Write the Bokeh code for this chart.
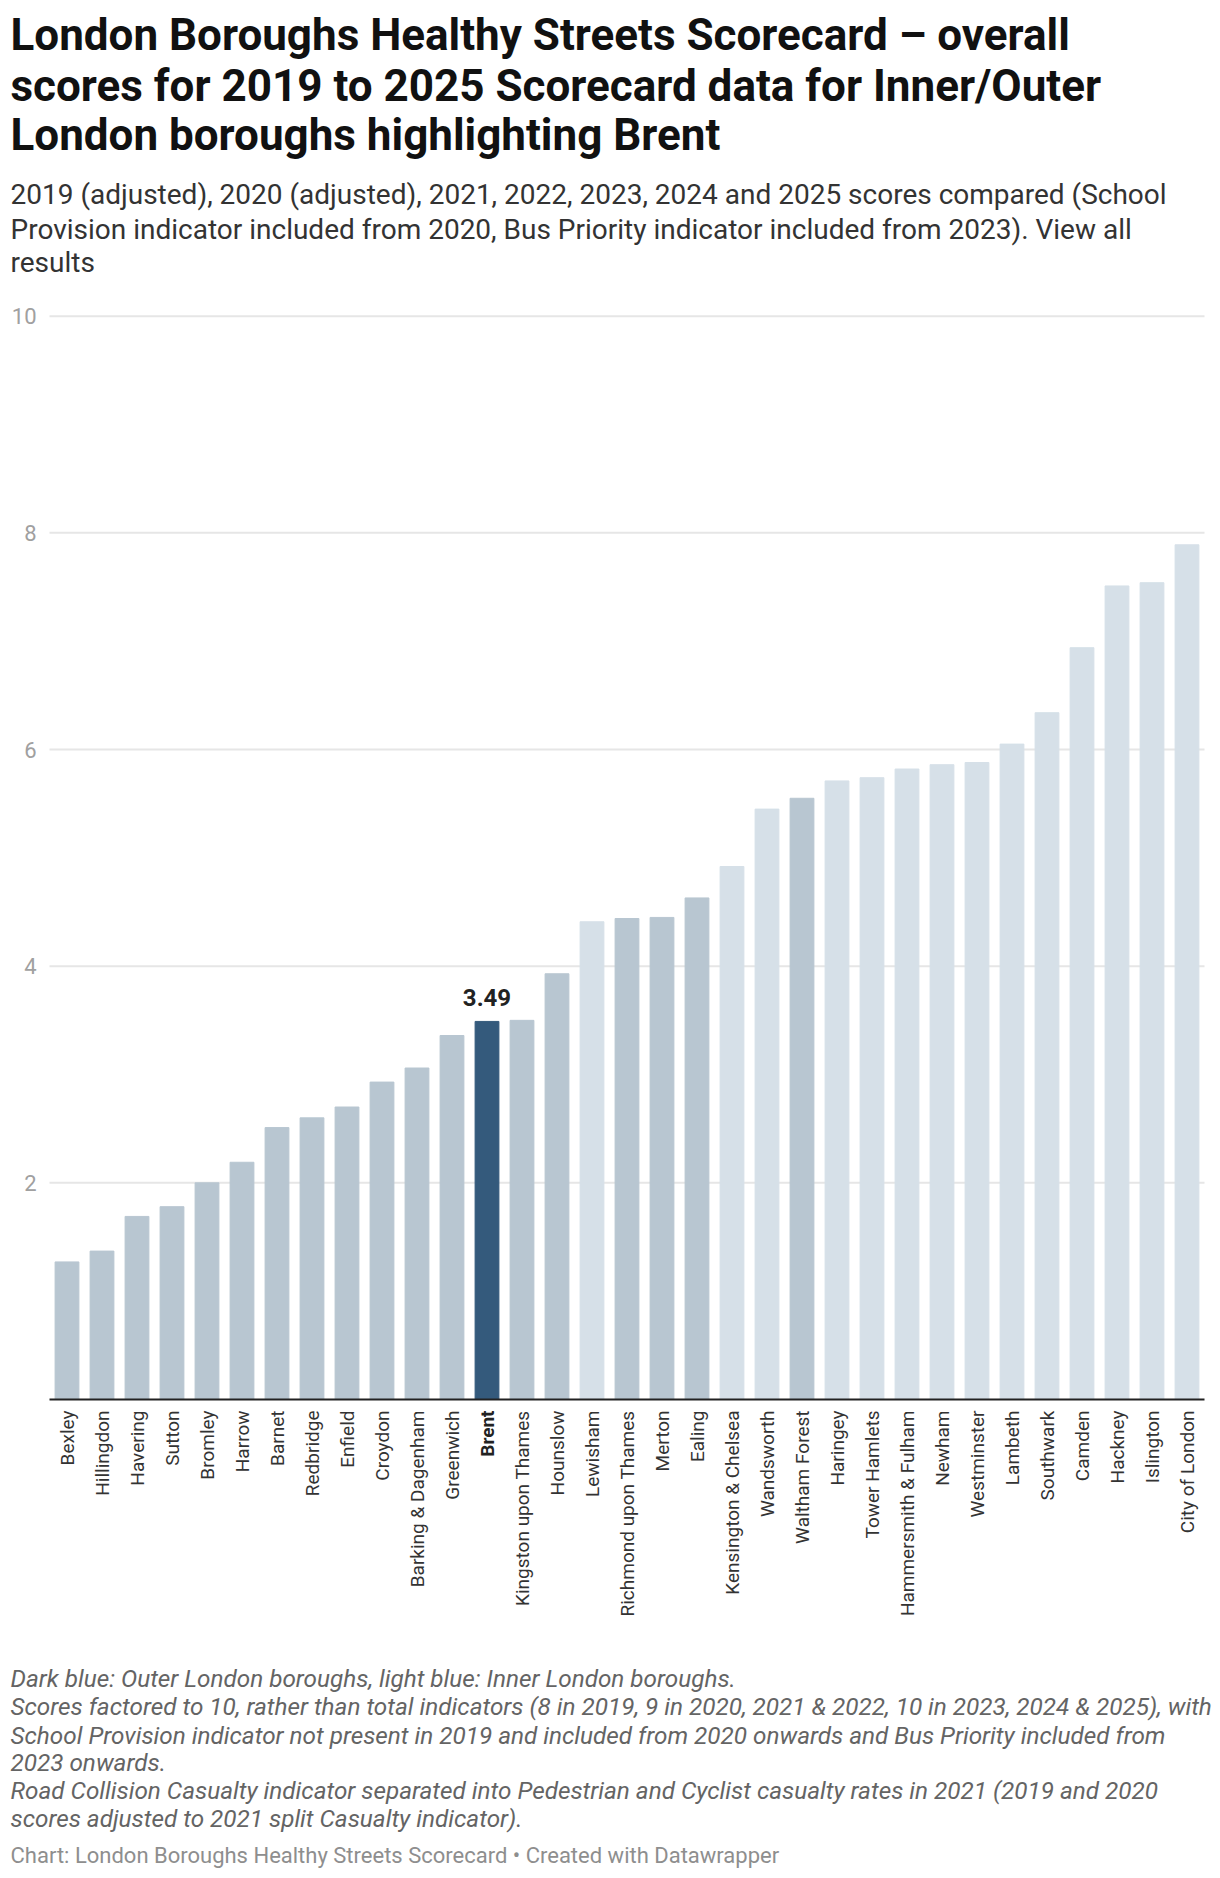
import math
from bokeh.plotting import figure
from bokeh.models import Range1d, Label, ColumnDataSource
from bokeh.core.properties import value
from bokeh.embed import file_html
from bokeh.resources import INLINE

# ---------------- data ----------------
boroughs = [
    "Bexley", "Hillingdon", "Havering", "Sutton", "Bromley", "Harrow", "Barnet",
    "Redbridge", "Enfield", "Croydon", "Barking & Dagenham", "Greenwich", "Brent",
    "Kingston upon Thames", "Hounslow", "Lewisham", "Richmond upon Thames", "Merton",
    "Ealing", "Kensington & Chelsea", "Wandsworth", "Waltham Forest", "Haringey",
    "Tower Hamlets", "Hammersmith & Fulham", "Newham", "Westminster", "Lambeth",
    "Southwark", "Camden", "Hackney", "Islington", "City of London",
]
scores = [
    1.27, 1.37, 1.69, 1.78, 2.00, 2.19, 2.51,
    2.60, 2.70, 2.93, 3.06, 3.36, 3.49,
    3.50, 3.93, 4.41, 4.44, 4.45,
    4.63, 4.92, 5.45, 5.55, 5.71,
    5.74, 5.82, 5.86, 5.88, 6.05,
    6.34, 6.94, 7.51, 7.54, 7.89,
]
groups = [
    "Outer", "Outer", "Outer", "Outer", "Outer", "Outer", "Outer",
    "Outer", "Outer", "Outer", "Outer", "Outer", "Outer",
    "Outer", "Outer", "Inner", "Outer", "Outer",
    "Outer", "Inner", "Inner", "Outer", "Inner",
    "Inner", "Inner", "Inner", "Inner", "Inner",
    "Inner", "Inner", "Inner", "Inner", "Inner",
]
highlight = "Brent"
y_ticks = [2, 4, 6, 8, 10]
y_tick_labels = ["2", "4", "6", "8", "10"]

title_lines = [
    "London Boroughs Healthy Streets Scorecard \u2013 overall",
    "scores for 2019 to 2025 Scorecard data for Inner/Outer",
    "London boroughs highlighting Brent",
]
subtitle_lines = [
    "2019 (adjusted), 2020 (adjusted), 2021, 2022, 2023, 2024 and 2025 scores compared (School",
    "Provision indicator included from 2020, Bus Priority indicator included from 2023). View all",
    "results",
]
note_lines = [
    "Dark blue: Outer London boroughs, light blue: Inner London boroughs.",
    "Scores factored to 10, rather than total indicators (8 in 2019, 9 in 2020, 2021 & 2022, 10 in 2023, 2024 & 2025), with",
    "School Provision indicator not present in 2019 and included from 2020 onwards and Bus Priority included from",
    "2023 onwards.",
    "Road Collision Casualty indicator separated into Pedestrian and Cyclist casualty rates in 2021 (2019 and 2020",
    "scores adjusted to 2021 split Casualty indicator).",
]
footer_line = "Chart: London Boroughs Healthy Streets Scorecard \u2022 Created with Datawrapper"

# ---------------- styling / layout ----------------
FONT = "Roboto"
COL_OUTER = "#b8c6d1"
COL_INNER = "#d6e0e8"
COL_HL = "#345a7c"

W, H = 1212, 1874
PLOT_LEFT = 49          # pixel column where the first category band starts
BAND = 35               # pixels per category
ZERO_PX = 1399          # pixel row of value 0
PPU = 108.33            # pixels per unit of score

n = len(boroughs)
idx = list(range(n))
x_start = -0.5 - PLOT_LEFT / BAND
x_end = x_start + W / BAND
y_start = (ZERO_PX - H) / PPU
y_end = ZERO_PX / PPU

colors = [COL_HL if b == highlight else (COL_OUTER if g == "Outer" else COL_INNER)
          for b, g in zip(boroughs, groups)]
src = ColumnDataSource(dict(x=idx, borough=boroughs, score=scores, color=colors))

p = figure(
    width=W, height=H,
    x_range=Range1d(x_start, x_end), y_range=Range1d(y_start, y_end),
    x_axis_location=None, y_axis_location=None,
    output_backend="svg", toolbar_location=None, min_border=0,
)
p.title.visible = False
p.outline_line_color = None
p.background_fill_color = "white"
p.border_fill_color = "white"
p.grid.visible = False

# gridlines across the category extent
p.segment(x0=[-0.5] * len(y_ticks), x1=[n - 0.5] * len(y_ticks), y0=y_ticks, y1=y_ticks,
          line_color="#e6e6e6", line_width=2)

# y tick labels
p.text(x=[-0.5] * len(y_ticks), y=y_ticks, text=y_tick_labels, x_offset=-13,
       text_align="right", text_baseline="middle",
       text_font=value(FONT), text_font_size="22px", text_color="#a0a0a0")

# bars
p.vbar(x="x", top="score", width=0.68, color="color", source=src)

# baseline
p.segment(x0=[-0.5], x1=[n - 0.5], y0=[0], y1=[0], line_color="#222222", line_width=2)

# category labels (vertical)
norm_i = [i for i, b in enumerate(boroughs) if b != highlight]
hl_i = boroughs.index(highlight)
p.text(x=norm_i, y=[0] * len(norm_i), text=[boroughs[i] for i in norm_i],
       angle=math.pi / 2, text_align="right", text_baseline="middle", y_offset=11,
       text_font=value(FONT), text_font_size="19px", text_color="#333333")
p.text(x=[hl_i], y=[0], text=[highlight], angle=math.pi / 2,
       text_align="right", text_baseline="middle", y_offset=11,
       text_font=value(FONT), text_font_size="19px", text_font_style="bold",
       text_color="#222222")

# value label of highlighted bar
hl_score = scores[hl_i]
p.text(x=[hl_i], y=[hl_score], text=[f"{hl_score:.2f}"], text_align="center",
       text_baseline="alphabetic", y_offset=-24,
       text_font=value(FONT), text_font_size="24px", text_font_style="bold",
       text_color="#222222")

# header / footer texts (screen units; the frame covers the whole canvas)
def add_line(txt, x, row, size, style="normal", color="#222222"):
    p.add_layout(Label(x=x, y=H - row, x_units="screen", y_units="screen",
                       text=txt, text_font=FONT, text_font_size=size,
                       text_font_style=style, text_color=color,
                       text_baseline="alphabetic", text_align="left"))

for t, r in zip(title_lines, [34.5, 85, 134]):
    add_line(t, 10, r, "44px", "bold", "#111111")
for t, r in zip(subtitle_lines, [194, 229, 262]):
    add_line(t, 10, r, "28px", "normal", "#333333")
for t, r in zip(note_lines, [1678, 1706, 1734.5, 1762, 1789.5, 1817.5]):
    add_line(t, 10, r, "24.3px", "italic", "#646464")
add_line(footer_line, 10, 1854.5, "22px", "normal", "#8e8e8e")

open("out.html", "w").write(file_html(p, INLINE))
